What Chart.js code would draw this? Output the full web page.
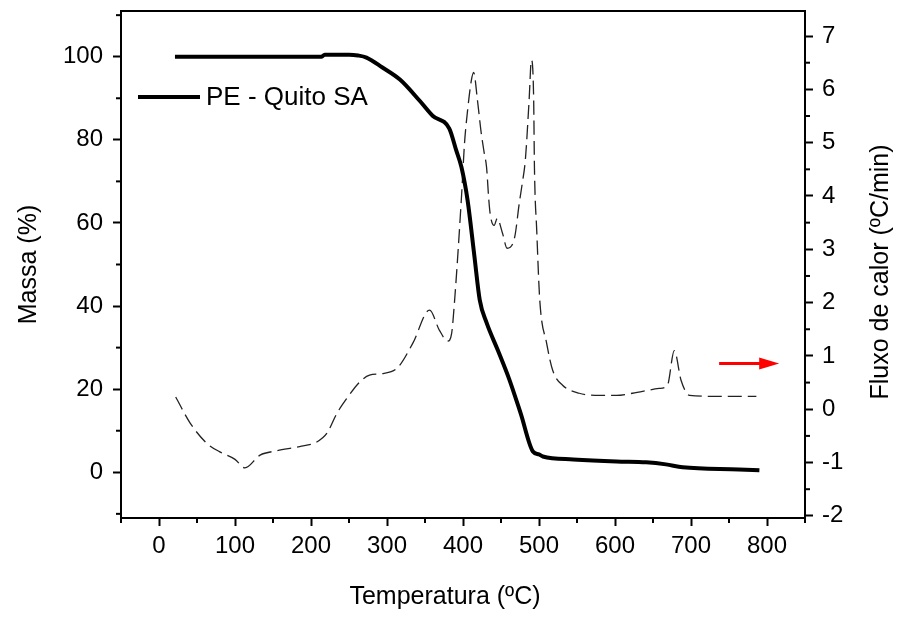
<!DOCTYPE html>
<html>
<head>
<meta charset="utf-8">
<script src="https://cdn.jsdelivr.net/npm/chart.js@4.4.0/dist/chart.umd.min.js"></script>
<style>
  html, body { margin: 0; padding: 0; background: #fff; }
</style>
</head>
<body>
<canvas id="tgaChart" width="900" height="617"></canvas>
<script>
// TG curve (mass loss, left axis)
const tgTemp = [21, 100, 214, 218, 250, 262, 273, 294, 317, 343, 360, 382, 391, 398, 406, 415, 422, 431, 446, 461, 476, 492, 500, 505, 545, 602, 641, 667, 689, 763, 790];
const tgMass = [100, 100, 100, 100.5, 100.5, 100.3, 99.8, 97.4, 94.5, 89.4, 85.8, 82.7, 77.5, 73.4, 65.5, 52, 41.5, 36, 29.3, 22.3, 14.1, 5, 4.3, 3.8, 3.1, 2.6, 2.4, 1.9, 1.2, 0.7, 0.5];

// heat flow curve (dashed, right axis)
const dtgTemp = [22, 41, 63, 80, 100, 113, 133, 155, 185, 207, 221, 234, 247, 264, 277, 295, 314, 334, 356, 369, 380, 385, 389, 398, 402, 406, 411, 414, 419, 424, 428, 431, 434, 436, 441, 445, 452, 458, 468, 474, 478, 482, 487, 490, 493, 494, 497, 501, 510, 518, 531, 553, 580, 602, 623, 658, 669, 678, 687, 698, 740, 786];
const dtgFlow = [0.23, -0.26, -0.64, -0.8, -0.94, -1.1, -0.86, -0.78, -0.7, -0.62, -0.45, -0.08, 0.2, 0.51, 0.64, 0.67, 0.78, 1.24, 1.86, 1.48, 1.28, 1.42, 2.05, 3.98, 4.99, 5.6, 6.17, 6.32, 5.8, 5.18, 4.8, 4.54, 3.92, 3.64, 3.45, 3.58, 3.3, 3.02, 3.23, 3.86, 4.24, 4.67, 5.8, 6.55, 5.8, 4.54, 3.36, 2.05, 1.24, 0.73, 0.45, 0.3, 0.26, 0.26, 0.3, 0.39, 0.45, 1.1, 0.54, 0.26, 0.24, 0.24];

// tick values
const tempTicks = [0, 100, 200, 300, 400, 500, 600, 700, 800];
const tempMinor = [-50, 50, 150, 250, 350, 450, 550, 650, 750, 850];
const massTicks = [0, 20, 40, 60, 80, 100];
const massMinor = [-10, 10, 30, 50, 70, 90, 110];
const flowTicks = [-2, -1, 0, 1, 2, 3, 4, 5, 6, 7];
const flowMinor = [-1.5, -0.5, 0.5, 1.5, 2.5, 3.5, 4.5, 5.5, 6.5];

// red arrow pointing to the right axis
const arrowTemp = [737, 816];
const arrowFlow = 0.86;

const FONT = '"Liberation Sans", Arial, sans-serif';
const X_TITLE = 'Temperatura (ºC)';
const Y2_TITLE = 'Fluxo de calor (ºC/min)';

const toPoints = (xs, ys) => xs.map((x, i) => ({ x: x, y: ys[i] }));
const setTicks = (values) => (scale) => { scale.ticks = values.map(v => ({ value: v })); };
const noPad = (s) => { s.paddingTop = 0; s.paddingBottom = 0; s.paddingLeft = 0; s.paddingRight = 0; };

const extras = {
  id: 'extras',
  afterDraw(chart) {
    const { ctx, chartArea: a, scales } = chart;
    const seg = (x1, y1, x2, y2) => { ctx.beginPath(); ctx.moveTo(x1, y1); ctx.lineTo(x2, y2); ctx.stroke(); };
    ctx.save();
    ctx.strokeStyle = '#000';
    ctx.lineWidth = 2;
    seg(a.left - 1, a.top, a.right + 1, a.top);

    // minor ticks
    tempMinor.forEach(v => { const p = scales.x.getPixelForValue(v); seg(p, a.bottom, p, a.bottom + 5); });
    massMinor.forEach(v => { const p = scales.y.getPixelForValue(v); seg(a.left, p, a.left - 5, p); });
    flowMinor.forEach(v => { const p = scales.y2.getPixelForValue(v); seg(a.right, p, a.right + 5, p); });

    // axis titles (x title sits a little left of centre, right title reads upward)
    ctx.fillStyle = '#000';
    ctx.font = '25px ' + FONT;
    ctx.textAlign = 'center';
    ctx.textBaseline = 'middle';
    ctx.fillText(X_TITLE, 445, 597);
    ctx.save();
    ctx.translate(881, 272);
    ctx.rotate(-Math.PI / 2);
    ctx.fillText(Y2_TITLE, 0, 0);
    ctx.restore();

    // legend
    const tg = chart.data.datasets[0];
    ctx.lineWidth = tg.borderWidth;
    ctx.strokeStyle = tg.borderColor;
    seg(138, 97, 200, 97);
    ctx.font = '26px ' + FONT;
    ctx.textAlign = 'left';
    ctx.fillText(tg.label, 206, 98);

    // arrow
    const x1 = scales.x.getPixelForValue(arrowTemp[0]);
    const x2 = scales.x.getPixelForValue(arrowTemp[1]);
    const y = scales.y2.getPixelForValue(arrowFlow);
    ctx.strokeStyle = '#ff0000';
    ctx.fillStyle = '#ff0000';
    ctx.lineWidth = 3;
    seg(x1, y, x2 - 14, y);
    ctx.beginPath();
    ctx.moveTo(x2, y);
    ctx.lineTo(x2 - 20, y - 6);
    ctx.lineTo(x2 - 20, y + 6);
    ctx.closePath();
    ctx.fill();
    ctx.restore();
  }
};

const ctx = document.getElementById('tgaChart').getContext('2d');

new Chart(ctx, {
  type: 'line',
  data: {
    datasets: [
      {
        label: 'PE - Quito SA',
        data: toPoints(tgTemp, tgMass),
        yAxisID: 'y',
        borderColor: '#000',
        borderWidth: 4,
        pointRadius: 0,
        cubicInterpolationMode: 'monotone',
        fill: false
      },
      {
        label: 'Fluxo de calor',
        data: toPoints(dtgTemp, dtgFlow),
        yAxisID: 'y2',
        borderColor: '#222',
        borderWidth: 1.3,
        borderDash: [14, 6],
        pointRadius: 0,
        cubicInterpolationMode: 'monotone',
        fill: false
      }
    ]
  },
  options: {
    responsive: false,
    animation: false,
    layout: { padding: { top: 11, left: 0, right: 0, bottom: 0 } },
    plugins: {
      legend: { display: false },
      tooltip: { enabled: false }
    },
    scales: {
      x: {
        type: 'linear',
        min: -50,
        max: 850,
        afterBuildTicks: setTicks(tempTicks),
        afterFit: (s) => { s.height = 99; noPad(s); },
        grid: { drawOnChartArea: false, tickLength: 8, tickWidth: 2, tickColor: '#000' },
        border: { display: true, color: '#000', width: 2 },
        ticks: { color: '#000', font: { family: FONT, size: 24 }, padding: 6, maxRotation: 0 }
      },
      y: {
        position: 'left',
        min: -11,
        max: 111,
        afterBuildTicks: setTicks(massTicks),
        afterFit: (s) => { s.width = 121; noPad(s); },
        grid: { drawOnChartArea: false, tickLength: 8, tickWidth: 2, tickColor: '#000' },
        border: { display: true, color: '#000', width: 2 },
        ticks: { color: '#000', font: { family: FONT, size: 24 }, padding: 10 },
        title: { display: true, text: 'Massa (%)', color: '#000', font: { family: FONT, size: 25 }, padding: { top: 14 } }
      },
      y2: {
        position: 'right',
        min: -2.04,
        max: 7.47,
        afterBuildTicks: setTicks(flowTicks),
        afterFit: (s) => { s.width = 95; noPad(s); },
        grid: { drawOnChartArea: false, tickLength: 8, tickWidth: 2, tickColor: '#000' },
        border: { display: true, color: '#000', width: 2 },
        ticks: { color: '#000', font: { family: FONT, size: 24 }, padding: 9 }
      }
    }
  },
  plugins: [extras]
});
</script>
</body>
</html>
